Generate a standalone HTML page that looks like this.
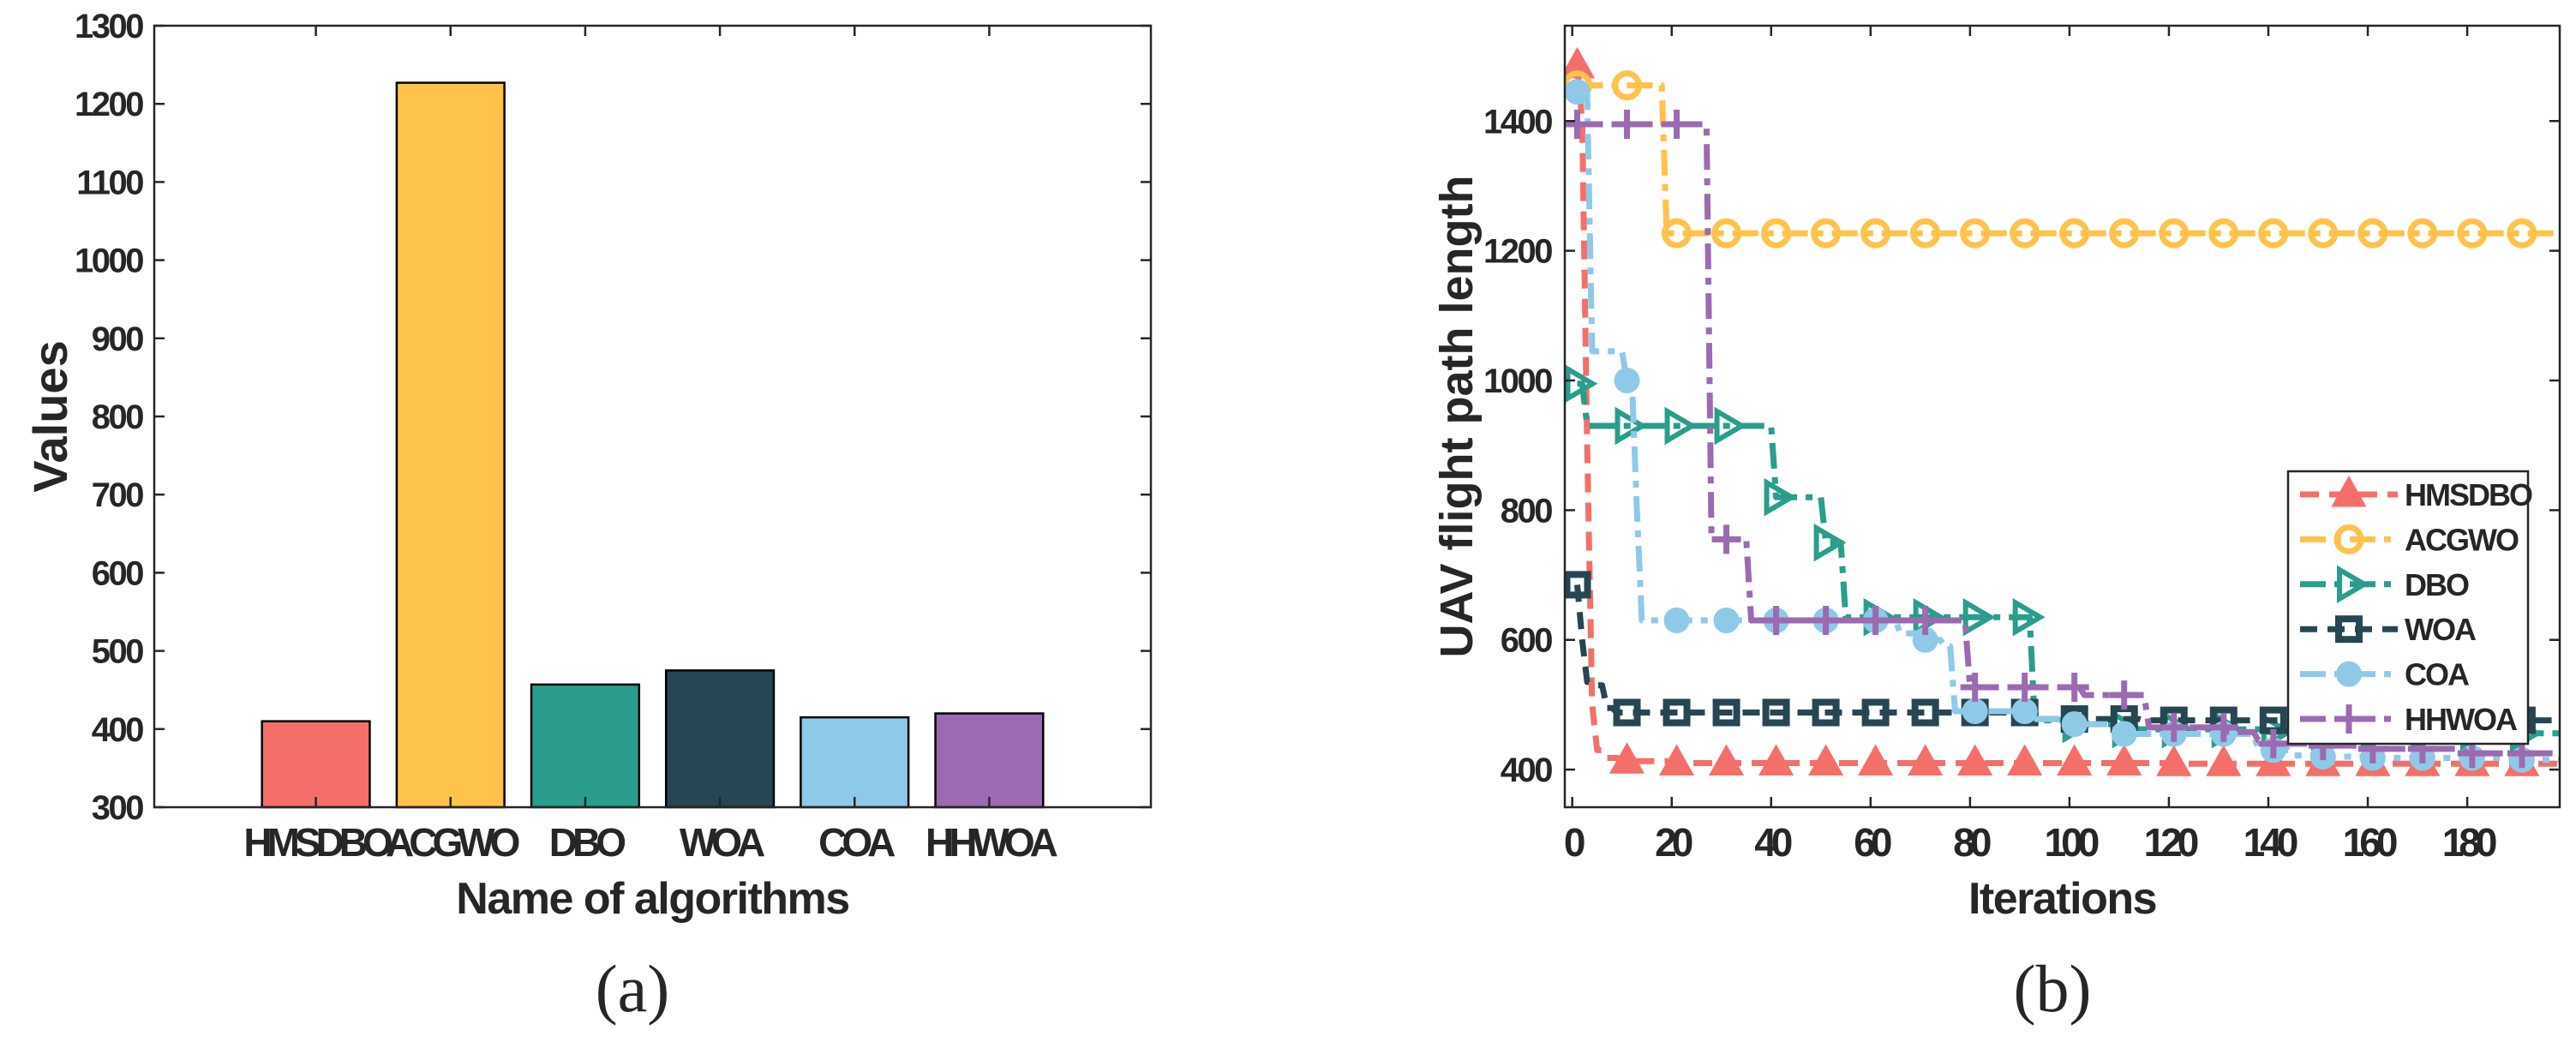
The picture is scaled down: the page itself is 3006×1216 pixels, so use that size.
<!DOCTYPE html>
<html><head><meta charset="utf-8"><style>
html,body{margin:0;padding:0;background:#fff;}
svg{display:block;}
text{font-family:"Liberation Sans",sans-serif;font-weight:bold;fill:#262626;}
</style></head><body>
<svg id="fig" width="3006" height="1216" viewBox="0 0 3006 1216" xmlns="http://www.w3.org/2000/svg">
<g id="chartA"></g>
<g id="chartB"></g>
<text x="738" y="1180" font-size="78" text-anchor="middle" style="font-family:'Liberation Serif',serif;font-weight:normal">(a)</text>
<text x="2395" y="1180" font-size="78" text-anchor="middle" style="font-family:'Liberation Serif',serif;font-weight:normal">(b)</text>
</svg>
<script>
// ---- Panel (a) data ----
const barCategories = ["HMSDBO","ACGWO","DBO","WOA","COA","HHWOA"];
const barValues = [410, 1227, 457, 475, 415, 420];
const barColors = ["#F46F6A","#FFC24B","#2A9D8C","#264653","#8FC9E8","#9C6AB0"];
const barYTicks = [300,400,500,600,700,800,900,1000,1100,1200,1300];

// ---- Panel (b) data: step breakpoints (iteration, value) ----
const seriesNames = ["HMSDBO","ACGWO","DBO","WOA","COA","HHWOA"];
const hmsdboIter = [1,2,3,4,5,7,10,20,60,120,199];
const hmsdboVal  = [1485,1400,900,500,430,418,413,410,410,409,408];
const acgwoIter = [1,19,199];
const acgwoVal  = [1455,1227,1227];
const dboIter = [1,3,41,51,55,93,100,110,140,190,199];
const dboVal  = [995,930,820,750,635,476,470,462,458,456,456];
const woaIter = [1,2,3,5,7,9,92,115,199];
const woaVal  = [685,600,535,530,495,488,478,476,476];
const coaIter = [1,2,4,11,13,14,66,70,75,77,92,100,110,138,145,150,160,190,199];
const coaVal  = [1445,1440,1045,1000,800,630,610,600,590,490,478,470,455,430,422,420,418,415,415];
const hhwoaIter = [1,28,36,80,103,116,132,138,140,150,160,180,199];
const hhwoaVal  = [1395,755,630,527,515,465,458,445,440,437,432,425,420];
const lineXTicks = [0,20,40,60,80,100,120,140,160,180];
const lineYTicks = [400,600,800,1000,1200,1400];

const NS="http://www.w3.org/2000/svg";
function mk(parent,tag,attrs){const e=document.createElementNS(NS,tag);for(const k in attrs)e.setAttribute(k,attrs[k]);parent.appendChild(e);return e;}

// ===== Panel A =====
(function(){
const g=document.getElementById('chartA');
const L=180,R=1343,T=30,B=942;
const xmin=-0.2,xmax=7.2,ymin=300,ymax=1300;
const sx=v=>L+(v-xmin)/(xmax-xmin)*(R-L);
const sy=v=>B-(v-ymin)/(ymax-ymin)*(B-T);
const bw=0.8*(sx(1)-sx(0));
barValues.forEach((v,i)=>{
  const r=mk(g,'rect',{x:sx(i+1)-bw/2,y:sy(v),width:bw,height:sy(ymin)-sy(v),fill:barColors[i],stroke:'#000','stroke-width':2.5});
  
  
});
mk(g,'rect',{x:L,y:T,width:R-L,height:B-T,fill:'none',stroke:'#262626','stroke-width':2.5});
barYTicks.forEach(t=>{
  const y=sy(t);
  mk(g,'line',{x1:L,x2:L+12,y1:y,y2:y,stroke:'#262626','stroke-width':2.5});
  mk(g,'line',{x1:R,x2:R-12,y1:y,y2:y,stroke:'#262626','stroke-width':2.5});
  const tx=mk(g,'text',{x:L-14,y:y+14,'font-size':40,'text-anchor':'end','letter-spacing':-2.5});
  tx.textContent=t;
  
  
});
barCategories.forEach((c,i)=>{
  const x=sx(i+1);
  mk(g,'line',{x1:x,x2:x,y1:B,y2:B-12,stroke:'#262626','stroke-width':2.5});
  mk(g,'line',{x1:x,x2:x,y1:T,y2:T+12,stroke:'#262626','stroke-width':2.5});
  const tx=mk(g,'text',{x:x,y:B+57,'font-size':46,'text-anchor':'middle','letter-spacing':-6});
  tx.textContent=c;
  
  
});
const xt=mk(g,'text',{x:(L+R)/2,y:1066,'font-size':52,'text-anchor':'middle','letter-spacing':-1.5});
xt.textContent='Name of algorithms';


const yt=mk(g,'text',{x:0,y:0,'font-size':56,'text-anchor':'middle',transform:'translate(78,'+((T+B)/2)+') rotate(-90)'});
yt.textContent='Values';


})();

// ===== Panel B =====
(function(){
const g=document.getElementById('chartB');
const L=1826,R=2987,T=30,B=942;
const xmin=-1.5,xmax=198.6,ymin=342,ymax=1547;
const sx=v=>L+(v-xmin)/(xmax-xmin)*(R-L);
const sy=v=>B-(v-ymin)/(ymax-ymin)*(B-T);
const iters=[hmsdboIter,acgwoIter,dboIter,woaIter,coaIter,hhwoaIter];
const vals=[hmsdboVal,acgwoVal,dboVal,woaVal,coaVal,hhwoaVal];
const colors=["#F46F6A","#FFC24B","#2A9D8C","#264653","#8FC9E8","#9C6AB0"];
const dashes=["22 12","30 10 8 10","30 10 8 10","20 12","30 10 8 10","30 10 8 10"];
const markers=["tri","circ","rtri","sq","dot","plus"];
function lookup(it,vs,t){let v=vs[0];for(let i=0;i<it.length;i++){if(it[i]<=t)v=vs[i];}return v;}
function marker(parent,type,x,y,col){
  let e;
  if(type==='tri') e=mk(parent,'polygon',{points:`${x},${y-19} ${x-18},${y+13} ${x+18},${y+13}`,fill:col,stroke:col,'stroke-width':3});
  else if(type==='circ') e=mk(parent,'circle',{cx:x,cy:y,r:14,fill:'none',stroke:col,'stroke-width':7});
  else if(type==='rtri') e=mk(parent,'polygon',{points:`${x+18},${y} ${x-11},${y-17} ${x-11},${y+17}`,fill:'none',stroke:col,'stroke-width':6});
  else if(type==='sq') e=mk(parent,'rect',{x:x-12,y:y-12,width:24,height:24,fill:'none',stroke:col,'stroke-width':8});
  else if(type==='dot') e=mk(parent,'circle',{cx:x,cy:y,r:14,fill:col,stroke:col,'stroke-width':2});
  else {e=mk(parent,'path',{d:`M${x-17},${y}H${x+17}M${x},${y-17}V${y+17}`,stroke:col,'stroke-width':7,fill:'none'});}
  return e;
}
const clip=mk(g,'clipPath',{id:'clipB'});
mk(clip,'rect',{x:L,y:T,width:R-L,height:B-T});
const plot=mk(g,'g',{'clip-path':'url(#clipB)'});
iters.forEach((it,s)=>{
  const vs=vals[s];
  let d=`M${sx(it[0])},${sy(vs[0])}`;
  for(let i=1;i<it.length;i++){
    d+=`L${sx(it[i]-1)},${sy(vs[i-1])}L${sx(it[i])},${sy(vs[i])}`;
  }
  const sg=mk(plot,'g',{});
  
  
  const p=mk(sg,'path',{d:d,fill:'none',stroke:colors[s],'stroke-width':7,'stroke-dasharray':dashes[s],'stroke-linejoin':'round'});
  
  
  for(let t=1;t<=191;t+=10){
    const m=marker(sg,markers[s],sx(t),sy(lookup(it,vs,t)),colors[s]);
    
    
  }
});
mk(g,'rect',{x:L,y:T,width:R-L,height:B-T,fill:'none',stroke:'#262626','stroke-width':2.5});
lineYTicks.forEach(t=>{
  const y=sy(t);
  mk(g,'line',{x1:L,x2:L+12,y1:y,y2:y,stroke:'#262626','stroke-width':2.5});
  mk(g,'line',{x1:R,x2:R-12,y1:y,y2:y,stroke:'#262626','stroke-width':2.5});
  const tx=mk(g,'text',{x:L-16,y:y+14,'font-size':40,'text-anchor':'end','letter-spacing':-2.5});
  tx.textContent=t;
  
  
});
lineXTicks.forEach(t=>{
  const x=sx(t);
  mk(g,'line',{x1:x,x2:x,y1:B,y2:B-12,stroke:'#262626','stroke-width':2.5});
  mk(g,'line',{x1:x,x2:x,y1:T,y2:T+12,stroke:'#262626','stroke-width':2.5});
  const tx=mk(g,'text',{x:x,y:B+57,'font-size':46,'text-anchor':'middle','letter-spacing':-6});
  tx.textContent=t;
  
  
});
const xt=mk(g,'text',{x:(L+R)/2,y:1066,'font-size':52,'text-anchor':'middle','letter-spacing':-1.5});
xt.textContent='Iterations';


const yt=mk(g,'text',{x:0,y:0,'font-size':54,'text-anchor':'middle',transform:'translate(1718,'+((T+B)/2)+') rotate(-90)'});
yt.textContent='UAV flight path length';


// legend
const lg=mk(g,'g',{});


mk(lg,'rect',{x:2670,y:550,width:280,height:318,fill:'#fff',stroke:'#262626','stroke-width':2.5});
seriesNames.forEach((n,i)=>{
  const y=577+i*52.4;
  const eg=mk(lg,'g',{});
  
  
  mk(eg,'line',{x1:2684,x2:2798,y1:y,y2:y,stroke:colors[i],'stroke-width':7,'stroke-dasharray':dashes[i]});
  marker(eg,markers[i],2741,y,colors[i]);
  const tx=mk(eg,'text',{x:2806,y:y+13,'font-size':36,'letter-spacing':-2});
  tx.textContent=n;
});
})();
</script>
</body></html>
